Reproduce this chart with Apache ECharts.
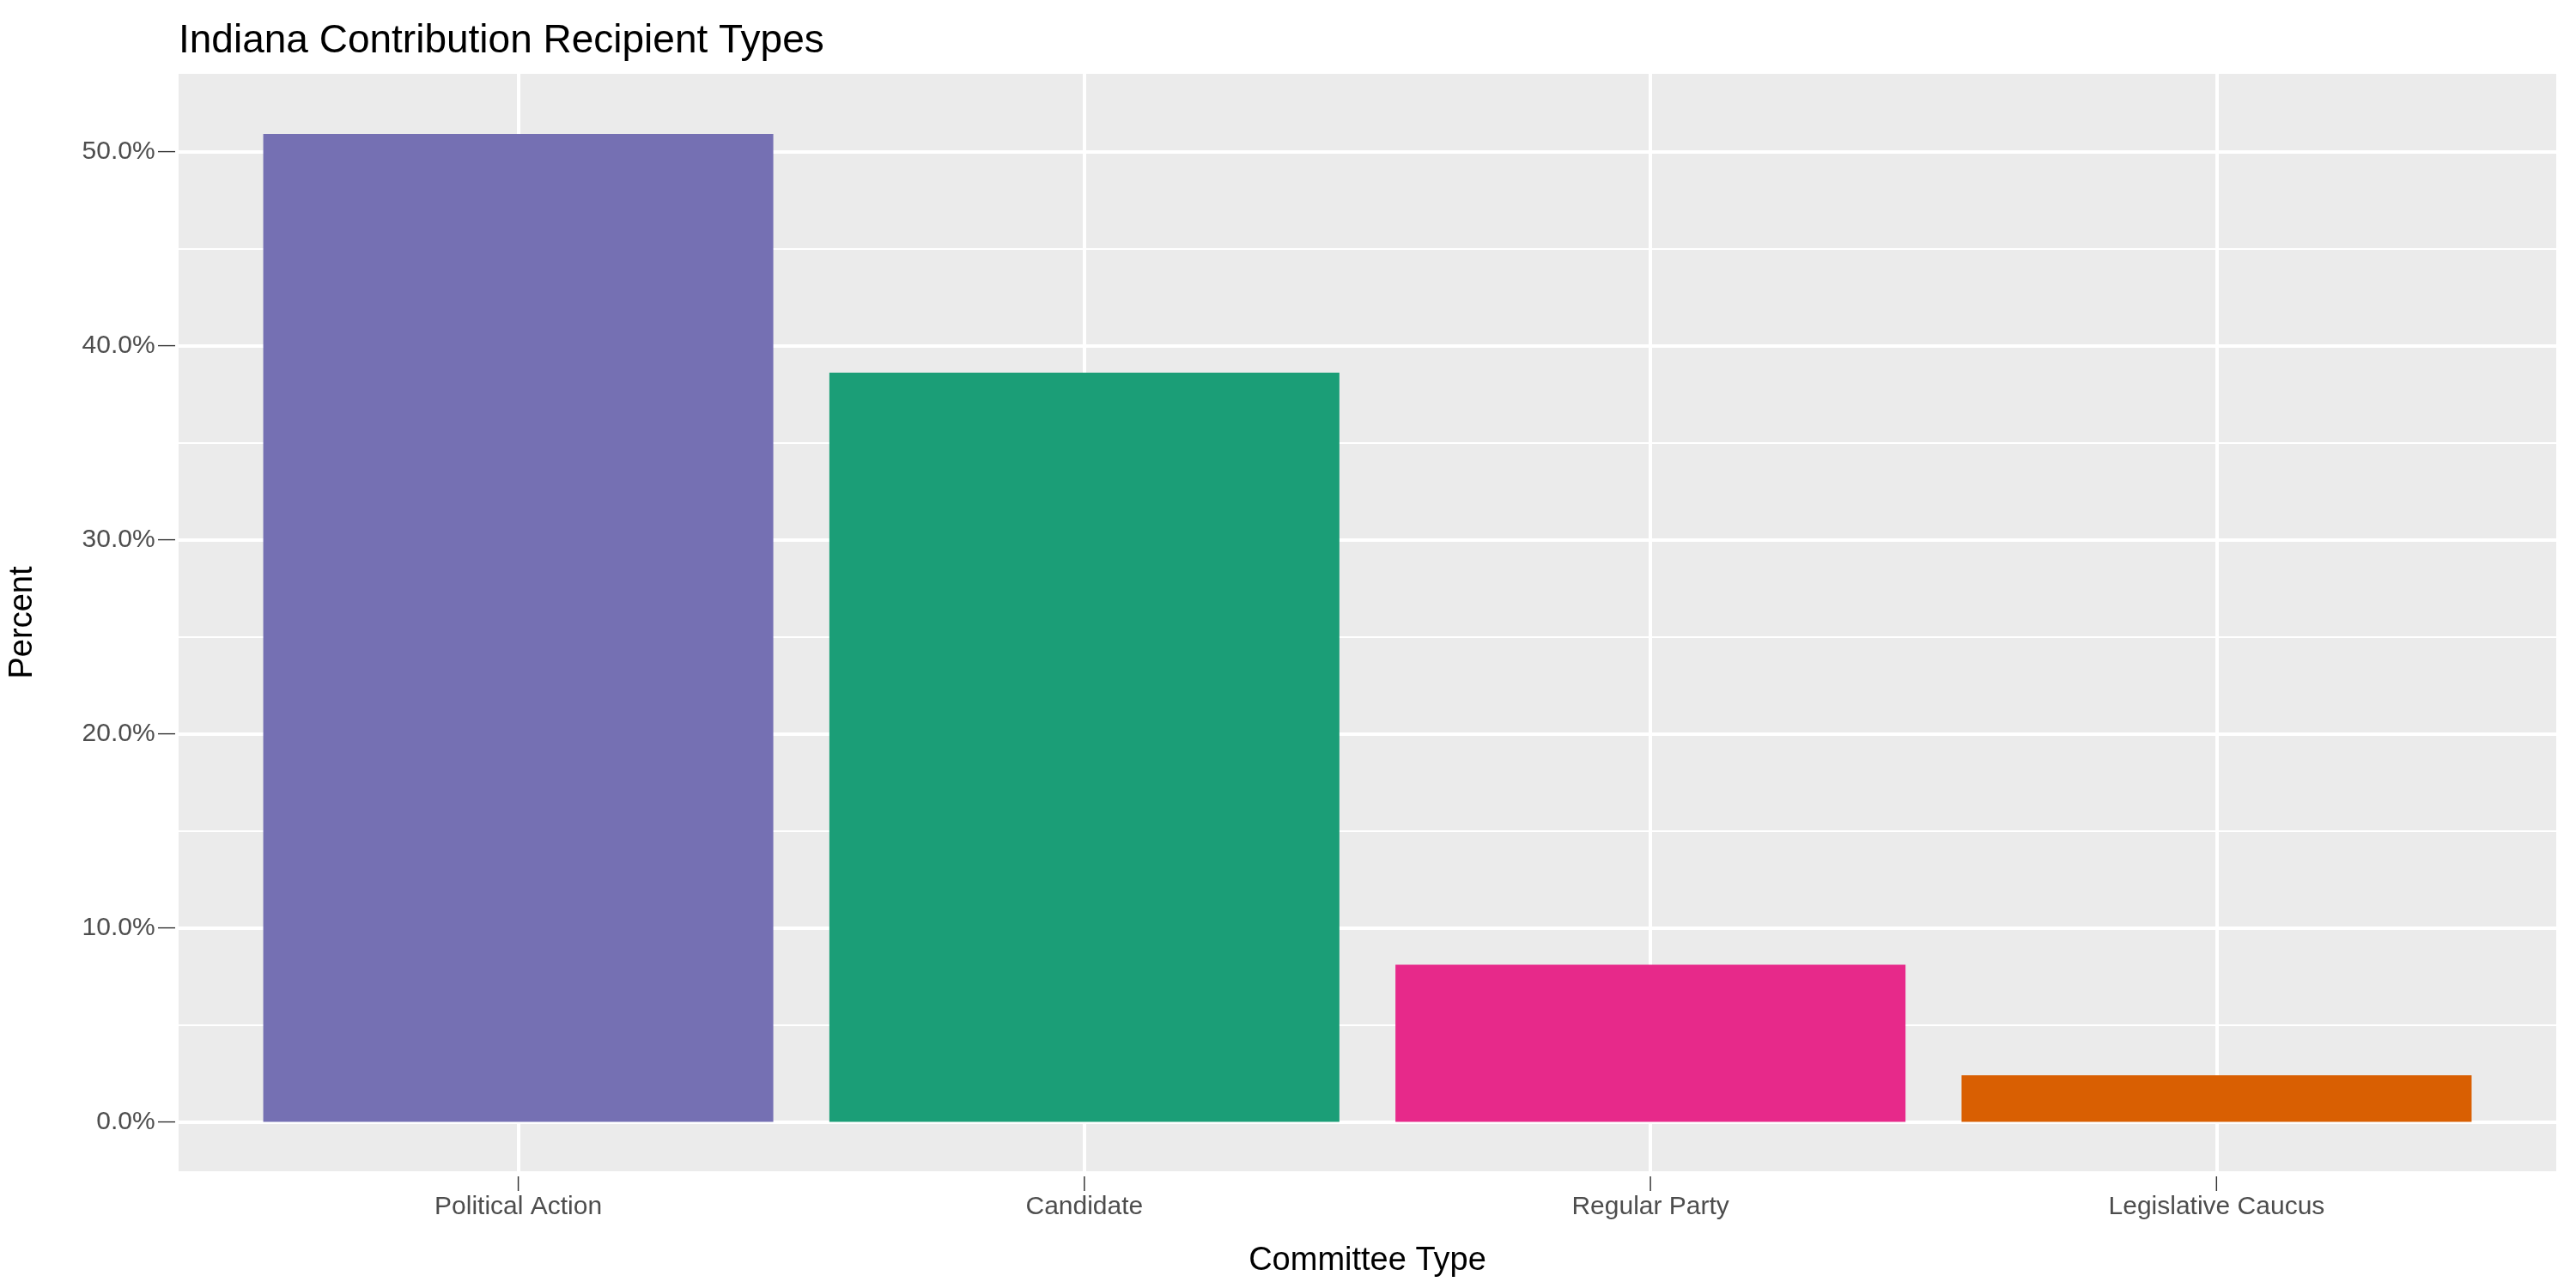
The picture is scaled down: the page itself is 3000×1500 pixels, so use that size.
<!DOCTYPE html>
<html><head><meta charset="utf-8">
<script src="https://cdn.jsdelivr.net/npm/echarts@6/dist/echarts.min.js"></script>
<style>html,body{margin:0;padding:0;background:#fff}#c{width:3000px;height:1500px}</style>
</head><body><div id="c"></div>
<script>
const categories = ["Political Action","Candidate","Regular Party","Legislative Caucus"];
const values = [50.9, 38.6, 8.1, 2.4];
const colors = ["#7570B3","#1B9E77","#E7298A","#D95F02"];
const majorTicks = [0,10,20,30,40,50];
const minorTicks = [5,15,25,35,45];
const yMin = -2.54, yMax = 54.0;

const chart = echarts.init(document.getElementById('c'));
const hLines = majorTicks.map(v => ({yAxis: v, lineStyle:{width:4}, label:{show:true, position:'start', distance:4,
    formatter: '{a|' + v.toFixed(1) + '%} {t|—}', rich:{a:{color:'#4D4D4D', fontSize:30}, t:{color:'#333', fontSize:20}}}}))
  .concat(minorTicks.map(v => ({yAxis: v, lineStyle:{width:2}, label:{show:false}})));
const vLines = categories.map((c,i) => ({xAxis: i+1, lineStyle:{width:4}, label:{show:true, position:'start', distance:4,
    formatter: '{t||}\n{a|' + c + '}', rich:{a:{color:'#4D4D4D', fontSize:30, lineHeight:36}, t:{color:'#333', fontSize:18, lineHeight:20}}}}));
chart.setOption({
  animation:false,
  textStyle:{fontFamily:'Liberation Sans, Arial, sans-serif'},
  title:{text:'Indiana Contribution Recipient Types', left:203, top:20, textStyle:{fontSize:46, fontWeight:'normal', color:'#000'}},
  grid:{left:203, right:23, top:86, bottom:136, show:true, backgroundColor:'#EBEBEB', borderWidth:0},
  xAxis:{type:'value', min:0.4, max:4.6, name:'Committee Type', nameLocation:'middle', nameGap:86,
    nameTextStyle:{fontSize:38, color:'#000'},
    axisLine:{show:false}, axisTick:{show:false}, axisLabel:{show:false}, splitLine:{show:false}},
  yAxis:{type:'value', min:yMin, max:yMax, name:'Percent', nameLocation:'middle', nameGap:162,
    nameTextStyle:{fontSize:38, color:'#000'},
    axisLine:{show:false}, axisTick:{show:false}, axisLabel:{show:false}, splitLine:{show:false}},
  series:[
    {type:'line', data:[], zlevel:0, z:1, silent:true,
     markLine:{silent:true, symbol:'none', animation:false, lineStyle:{color:'#FFFFFF', type:'solid'}, data: hLines.concat(vLines)}},
    {type:'bar', zlevel:1, z:3, barWidth:594, data: values.map((v,i)=>({value:[i+1, v], itemStyle:{color:colors[i]}}))}
  ]
});
</script></body></html>
